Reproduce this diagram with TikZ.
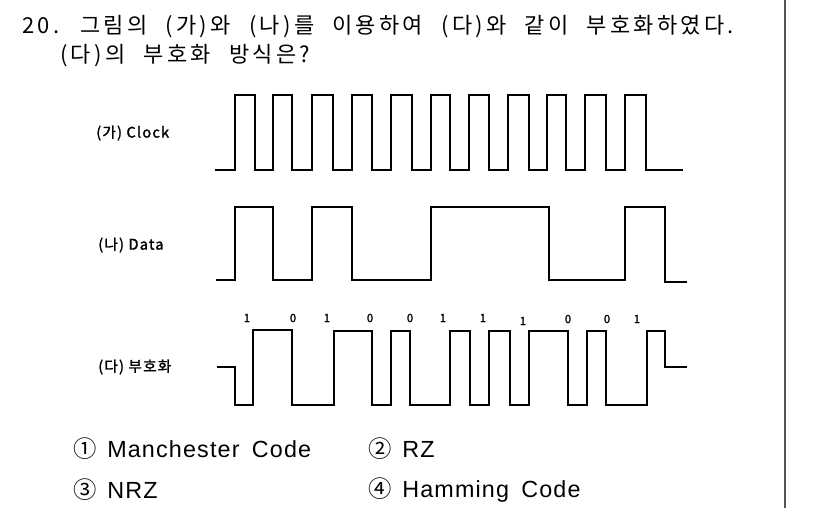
\documentclass[tikz,border=0pt]{standalone}
\usepackage{fontspec}
\newfontfamily\krfont[LetterSpace=15,WordSpace=2.2]{Noto Sans CJK KR}
\newfontfamily\krlab[FakeBold=1.5,LetterSpace=8]{Noto Sans CJK KR}
\newfontfamily\krnum{Noto Sans CJK KR}
\newfontfamily\optfont[LetterSpace=5,WordSpace=1.6]{Liberation Sans}
\usepackage{tikz}

\begin{document}
\begin{tikzpicture}[x=0.75pt,y=0.75pt,yscale=-1,xscale=1,
  wave/.style={line width=1.5pt, line join=miter},
  sigtext/.style={anchor=west, inner sep=0.75pt, font=\krlab\fontsize{11}{13}\selectfont},
  bittext/.style={inner sep=0.75pt, font=\krlab\fontsize{8.5}{10}\selectfont},
  qtext/.style={anchor=west, inner sep=0pt, font=\krfont\fontsize{16.5}{19}\selectfont},
  opttext/.style={anchor=west, inner sep=0pt, font=\optfont\fontsize{17.5}{20}\selectfont}]
%set diagram area to the page
\fill [white] (0,0) rectangle (826,508);
\path [use as bounding box] (0,0) rectangle (826,508);

%Straight Lines [id:border]
\draw [color={rgb, 255:red, 85; green, 85; blue, 85 }, line width=1.1pt] (785,0) -- (785,508) ;

% Text Node
\node (title1) at (22,27) [qtext] {20. 그림의 (가)와 (나)를 이용하여 (다)와 같이 부호화하였다.};
% Text Node
\node (title2) at (60,56) [qtext] {(다)의 부호화 방식은?};

% Text Node
\node (clk) at (95,133) [sigtext] {(가) Clock};
% Text Node
\node (dat) at (97,245) [sigtext] {(나) Data};
% Text Node
\node (enc) at (97,367) [sigtext] {(다) 부호화};

%Clock wave
\draw [wave] (215,170) -- (235,170) -- (235,95) -- (255,95) -- (255,170) -- (273,170) -- (273,95) -- (292,95) -- (292,170) -- (312,170) -- (312,95) -- (333,95) -- (333,170) -- (352,170) -- (352,95) -- (372,95) -- (372,170) -- (391,170) -- (391,95) -- (412,95) -- (412,170) -- (431,170) -- (431,95) -- (450,95) -- (450,170) -- (469,170) -- (469,95) -- (489,95) -- (489,170) -- (508,170) -- (508,95) -- (529,95) -- (529,170) -- (547,170) -- (547,95) -- (566,95) -- (566,170) -- (585,170) -- (585,95) -- (606,95) -- (606,170) -- (625,170) -- (625,95) -- (646,95) -- (646,170) -- (683,170) ;

%Data wave
\draw [wave] (216,280) -- (235,280) -- (235,207) -- (273,207) -- (273,280) -- (312,280) -- (312,207) -- (352,207) -- (352,280) -- (431,280) -- (431,207) -- (549,207) -- (549,280) -- (625,280) -- (625,207) -- (665,207) -- (665,282) -- (687,282) ;

%Encoded wave
\draw [wave] (217,367) -- (235,367) -- (235,405) -- (253,405) -- (253,330) -- (292,330) -- (292,405) -- (334,405) -- (334,331) -- (372,331) -- (372,405) -- (391,405) -- (391,331) -- (410,331) -- (410,405) -- (450,405) -- (450,331) -- (470,331) -- (470,405) -- (489,405) -- (489,331) -- (510,331) -- (510,405) -- (529,405) -- (529,331) -- (568,331) -- (568,405) -- (587,405) -- (587,331) -- (606,331) -- (606,405) -- (647,405) -- (647,331) -- (665,331) -- (665,367) -- (687,367) ;

% Bit labels
\node (b1) at (247,318) [bittext] {1};
\node (b2) at (293,318) [bittext] {0};
\node (b3) at (327,318) [bittext] {1};
\node (b4) at (370,318) [bittext] {0};
\node (b5) at (410,318) [bittext] {0};
\node (b6) at (443,318) [bittext] {1};
\node (b7) at (483,318) [bittext] {1};
\node (b8) at (523,321) [bittext] {1};
\node (b9) at (568,319) [bittext] {0};
\node (b10) at (607,319) [bittext] {0};
\node (b11) at (637,319) [bittext] {1};

% Answer options
\node (opt1) at (73,449) [opttext] {{\krnum ①}\hspace{8pt}Manchester Code};
\node (opt2) at (368,449) [opttext] {{\krnum ②}\hspace{8pt}RZ};
\node (opt3) at (73,490) [opttext] {{\krnum ③}\hspace{8pt}NRZ};
\node (opt4) at (368,490) [opttext] {{\krnum ④}\hspace{8pt}Hamming Code};

\end{tikzpicture}
\end{document}
